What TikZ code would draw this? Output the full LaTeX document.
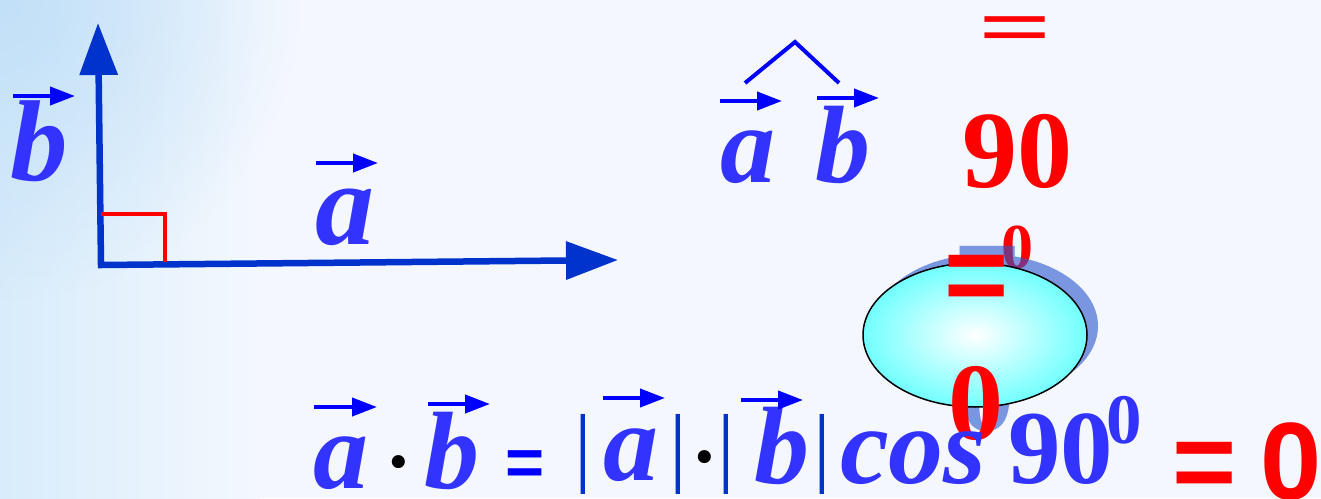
\documentclass[tikz,border=0pt]{standalone}
\usepackage{fontspec}
\usepackage{graphicx}
\setmainfont{Liberation Serif}
\newfontfamily\arialf{Liberation Sans}
\usetikzlibrary{arrows.meta,shapes.geometric,fadings}
\definecolor{letblue}{HTML}{3333FF}
\definecolor{vecblue}{HTML}{0000FF}
\definecolor{axblue}{HTML}{0033CC}
\definecolor{redc}{HTML}{FF0000}
\definecolor{bgL}{HTML}{D8ECFB}
\definecolor{bgR}{HTML}{F4F8FE}
\definecolor{bgC}{HTML}{C2E0F8}
\definecolor{cyanfill}{HTML}{33FFFF}
\definecolor{shadowc}{RGB}{43,85,204}
\pgfdeclareradialshading{ellglow}{\pgfpoint{0bp}{0bp}}{color(0bp)=(white); color(36bp)=(cyanfill); color(50bp)=(cyanfill)}
\tikzfading[name=cornerfade, inner color=transparent!0, outer color=transparent!100]
\newcommand\fsz[1]{\fontsize{#1}{#1}\selectfont}
\begin{document}
\begin{tikzpicture}[x=1pt,y=-1pt,
  txt/.style={inner sep=0pt, outer sep=0pt, anchor=base west},
  lett/.style={txt, text=letblue, font={\fsz{#1}\bfseries\itshape}},
  lett/.default=110,
  redser/.style={txt, text=redc, font={\fsz{#1}\bfseries}},
  redsans/.style={txt, text=redc, font={\fsz{#1}\arialf\bfseries}},
  shadser/.style={txt, text=shadowc, font={\fsz{#1}\bfseries}},
  shadsans/.style={txt, text=shadowc, font={\fsz{#1}\arialf\bfseries}},
  barglyph/.style={txt, text=axblue, font={\fsz{88}}},
  dotglyph/.style={txt, text=black, font={\fsz{110}}},
  vecar/.style={vecblue, line width=4pt, -{Triangle[length=25pt,width=18pt]}},
  axisvec/.style={axblue, line width=6.5pt, {Triangle[length=52pt,width=37pt]}-{Triangle[length=52pt,width=37pt]}},
]
% background
\useasboundingbox (0,0) rectangle (1321,498);
\fill[bgR] (0,0) rectangle (1321,498);
\shade[left color=bgL, right color=bgR] (0,0) rectangle (260,498);
\fill[bgC, path fading=cornerfade] (0,0) circle [radius=300];

% main vectors
\coordinate (O) at (101,265);
\coordinate (Bt) at (98,23);
\coordinate (At) at (618,260);
\draw[axisvec] (Bt) -- (O) -- (At);
\coordinate (r1) at (101,214);
\coordinate (r2) at (165,214);
\coordinate (r3) at (165,262);
\draw[redc, line width=4pt] (r1) -- (r2) -- (r3);

% labels of the vectors
\node[lett=115] (lb) at (10,180) {b};
\coordinate (lbs) at (13,96); \coordinate (lbe) at (75,96);
\draw[vecar] (lbs) -- (lbe);
\node[lett=118] (la) at (315,244) {a};
\coordinate (las) at (316,163); \coordinate (lae) at (378,163);
\draw[vecar] (las) -- (lae);

% angle notation
\node[lett] (ta) at (720,182) {a};
\node[lett] (tb) at (815,182) {b};
\coordinate (tas) at (720,101); \coordinate (tae) at (782,101);
\coordinate (tbs) at (817,98); \coordinate (tbe) at (879,98);
\draw[vecar] (tas) -- (tae);
\draw[vecar] (tbs) -- (tbe);
\coordinate (h1) at (745,83); \coordinate (h2) at (795,42); \coordinate (h3) at (839,83);
\draw[vecblue, line width=4pt] (h1) -- (h2) -- (h3);

% red column
\node[redser=108] (req1) at (978,54) {\scalebox{1.2}[0.75]{=}};
\node[redser=110] (r90) at (962,187) {90};
\node[redser=64] (rsup) at (1001,268) {0};

% shadow of the ellipse group
\begin{scope}[transparency group, opacity=0.6]
  \fill[shadowc] (986,326) ellipse [x radius=112, y radius=72];
  \node[shadsans=110] (seq) at (955,303) {=};
  \node[shadser=110] (s0) at (959,430) {0};
\end{scope}
\node[ellipse, draw=black, line width=1.5pt, shading=ellglow, minimum width=224pt, minimum height=144pt, inner sep=0pt] (ell) at (975,335) {};
\node[redsans=110] (req2) at (944,312) {=};
\node[redser=110] (r0) at (948,439) {0};

% bottom formula
\node[lett] (fa) at (313,488) {a};
\draw[vecar] (314,407) coordinate (fas) -- (377,407) coordinate (fae);
\node[dotglyph] (d1) at (380,498) {·};
\node[lett] (fb) at (424,488) {b};
\draw[vecar] (428,404) coordinate (fbs) -- (490,404) coordinate (fbe);
\node[txt, text=vecblue, font={\fsz{67}\arialf\bfseries}] (feq) at (505,485) {=};
\node[barglyph] (bar1) at (574,475) {|};
\node[lett] (fa2) at (603,480) {a};
\draw[vecar] (603,398) coordinate (fa2s) -- (665,398) coordinate (fa2e);
\node[barglyph] (bar2) at (669,475) {|};
\node[dotglyph] (d2) at (686,493) {·};
\node[barglyph] (bar3) at (717,475) {|};
\node[lett] (fb2) at (754,483) {b};
\draw[vecar] (741,400) coordinate (fb2s) -- (803,400) coordinate (fb2e);
\node[barglyph] (bar4) at (813,475) {|};
\node[lett] (fcos) at (840,483) {cos};
\node[txt, text=letblue, font={\fsz{105}\bfseries}] (f90) at (1008,483) {90};
\node[txt, text=letblue, font={\fsz{71}\bfseries}] (fsup) at (1106,443) {0};
\node[redsans=110] (feq2) at (1172,499) {=};
\node[redsans=110] (f0) at (1260,499) {0};
\end{tikzpicture}
\end{document}
